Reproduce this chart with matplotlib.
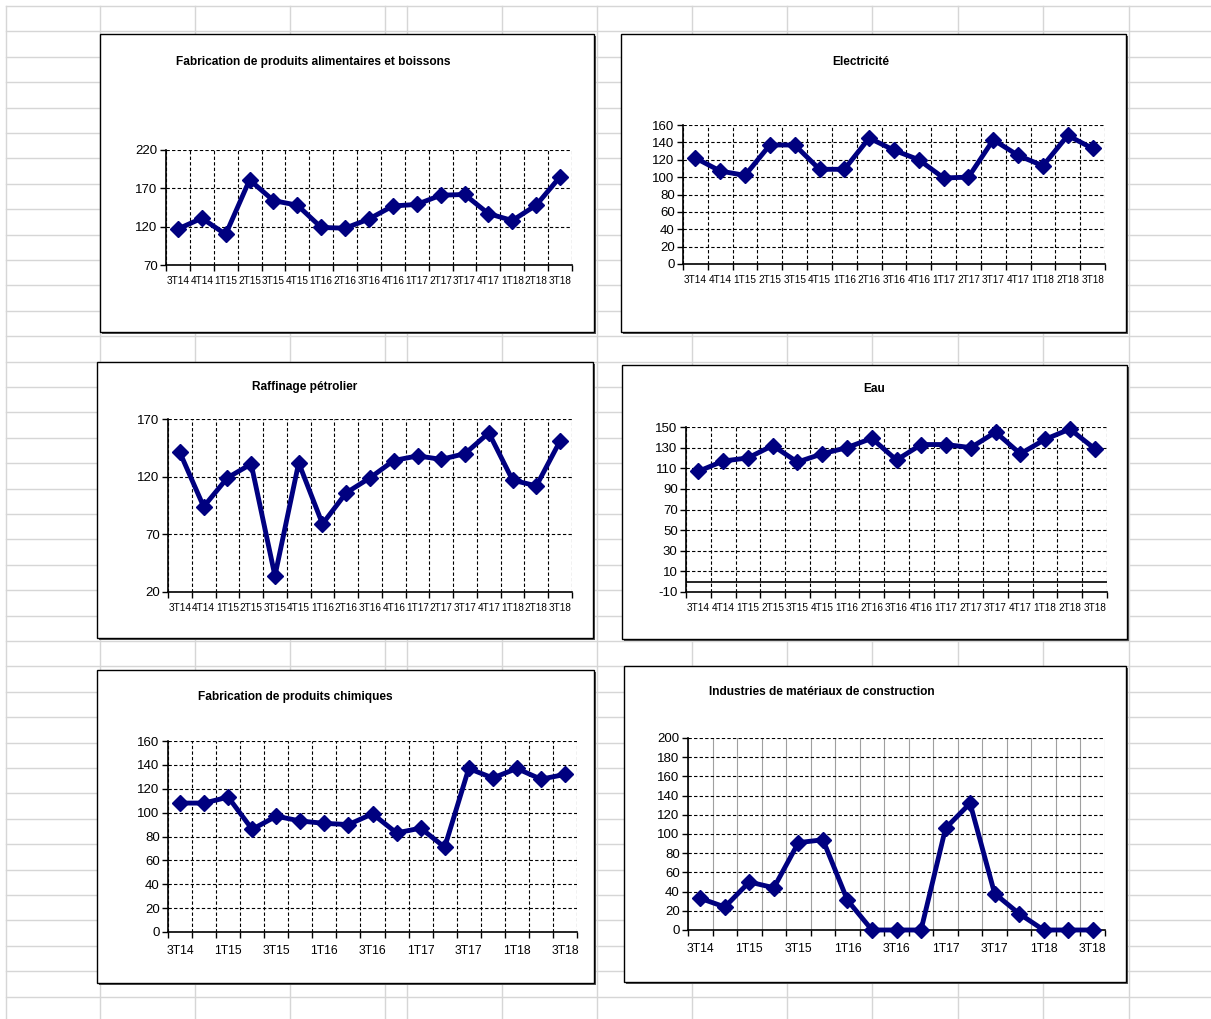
import numpy as np
import matplotlib
matplotlib.use('Agg')
import matplotlib.pyplot as plt
from matplotlib.patches import Rectangle
from matplotlib import font_manager

# Données (indices trimestriels)
trimestres = ['3T14', '4T14', '1T15', '2T15', '3T15', '4T15', '1T16', '2T16', '3T16',
              '4T16', '1T17', '2T17', '3T17', '4T17', '1T18', '2T18', '3T18']

alimentaires = [117, 131, 110, 181, 154, 148, 119, 118, 130, 147, 149, 161, 162, 137, 128, 148, 185]
electricite = [122, 107, 102, 137, 137, 109, 109, 145, 131, 120, 99, 100, 143, 125, 113, 148, 133]
raffinage = [141, 94, 119, 131, 34, 132, 79, 106, 119, 134, 138, 135, 140, 158, 117, 112, 151]
eau = [107, 117, 120, 132, 116, 124, 130, 139, 118, 133, 133, 130, 145, 124, 138, 148, 129]
chimiques = [108, 108, 113, 86, 97, 93, 91, 90, 99, 83, 87, 71, 137, 129, 137, 128, 132]
materiaux = [33, 24, 50, 44, 91, 94, 31, 0, 0, 0, 106, 132, 38, 17, 0, 0, 0]

W, H = 1211, 1019
names = {f.name for f in font_manager.fontManager.ttflist}
narrow = 'Liberation Sans Narrow' if 'Liberation Sans Narrow' in names else 'Liberation Sans'
plt.rcParams['font.family'] = [narrow, 'DejaVu Sans']

fig = plt.figure(figsize=(W / 100, H / 100), dpi=100)
fig.patch.set_facecolor('white')


def fx(x):
    return x / W


def fy(y):
    return 1 - y / H


# fond type tableur
bg = fig.add_axes([0, 0, 1, 1], zorder=-10)
bg.set_xlim(0, W)
bg.set_ylim(H, 0)
bg.axis('off')
for k in range(41):
    y = 6 + 25.4 * k
    bg.plot([6, W], [y, y], color='#d6d6d6', lw=1.0, zorder=1)
for x in [6, 100, 195, 290, 385, 407, 502, 597, 692, 787, 872, 958, 1043, 1129]:
    bg.plot([x, x], [6, H], color='#d6d6d6', lw=1.0, zorder=1)

# cadres des graphiques
cadres = [(100, 34, 594, 332), (621, 34, 1126, 332),
          (97, 362, 593, 638), (622, 365, 1127, 639),
          (97, 670, 594, 983), (624, 666, 1126, 982)]
for (x0, y0, x1, y1) in cadres:
    bg.add_patch(Rectangle((x0 + 1.5, y0 + 1.5), x1 - x0, y1 - y0, facecolor='#555555',
                           edgecolor='none', zorder=3))
    bg.add_patch(Rectangle((x0, y0), x1 - x0, y1 - y0, facecolor='white',
                           edgecolor='black', lw=1.0, zorder=4))

panneaux = [
    ('Fabrication de produits alimentaires et boissons', alimentaires,
     (166, 150, 572, 265), (70, 220), [70, 120, 170, 220], (313, 62), True, False),
    ('Electricité', electricite,
     (683, 125, 1105, 264), (0, 160), list(range(0, 161, 20)), (861, 62), True, False),
    ('Raffinage pétrolier', raffinage,
     (168, 419, 572, 592), (20, 170), [20, 70, 120, 170], (305, 387), True, False),
    ('Eau', eau,
     (686, 427, 1107, 592), (-10, 150), list(range(-10, 151, 20)), (874, 389), True, False),
    ('Fabrication de produits chimiques', chimiques,
     (168, 741, 577, 932), (0, 160), list(range(0, 161, 20)), (295, 697), False, False),
    ('Industries de matériaux de construction', materiaux,
     (688, 738, 1105, 930), (0, 200), list(range(0, 201, 20)), (822, 692), False, True),
]

n = len(trimestres)
x = np.arange(n)
for titre, vals, (x0, y0, x1, y1), ylim, yticks, (tx, ty), all_labels, grey_v in panneaux:
    ax = fig.add_axes([fx(x0), fy(y1), fx(x1) - fx(x0), fy(y0) - fy(y1)])
    ax.set_facecolor('none')
    ax.plot(x, vals, color='#000080', lw=3.5, marker='D', ms=8,
            mfc='#000080', mec='#000080', zorder=5, clip_on=False)
    ax.set_xlim(-0.5, n - 0.5)
    ax.set_ylim(*ylim)
    ax.set_yticks(yticks)
    ax.set_yticklabels([str(v) for v in yticks], fontsize=9.5)
    # graduations aux limites des catégories, étiquettes au centre
    ax.set_xticks(np.arange(-0.5, n, 1))
    ax.set_xticklabels([])
    ax.set_xticks(x, minor=True)
    if all_labels:
        ax.set_xticklabels(trimestres, minor=True, fontsize=7.2)
        ax.tick_params(axis='x', which='minor', length=0, pad=8)
    else:
        labs = [t if i % 2 == 0 else '' for i, t in enumerate(trimestres)]
        ax.set_xticklabels(labs, minor=True, fontsize=8.8)
        ax.tick_params(axis='x', which='minor', length=0, pad=9)
    ax.tick_params(axis='x', which='major', direction='out', length=4, width=1)
    ax.tick_params(axis='y', direction='out', length=4, width=1, pad=2)
    for s in ['top', 'right']:
        ax.spines[s].set_visible(False)
    for s in ['left', 'bottom']:
        ax.spines[s].set_linewidth(1.2)
        ax.spines[s].set_color('black')
    ax.grid(True, axis='y', which='major', color='black', ls=(0, (3, 2)), lw=0.8)
    if grey_v:
        ax.grid(True, axis='x', which='major', color='#a0a0a0', ls='-', lw=0.8)
    else:
        ax.grid(True, axis='x', which='major', color='black', ls=(0, (3, 2)), lw=0.8)
    ax.set_axisbelow(True)
    if ylim[0] < 0:
        ax.axhline(0, color='black', lw=1.2, zorder=2)
    fig.text(fx(tx), fy(ty), titre, ha='center', va='center', fontsize=8.6,
             fontweight='bold')

fig.savefig('out.png', dpi=100, facecolor='white')
